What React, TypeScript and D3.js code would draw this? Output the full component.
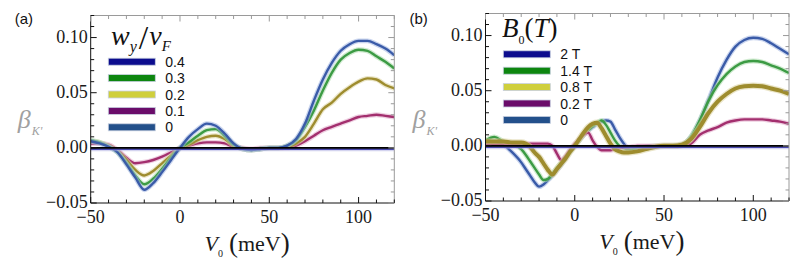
import * as d3 from "d3";

// panel (a): w_y / v_F
const gridA = [-50, -45, -40, -35, -30, -25, -20, -15, -10, -5, 0, 5, 10, 15, 20, 25, 30, 35, 40, 45, 50, 55, 60, 65, 70, 75, 80, 85, 90, 95, 100, 105, 110, 115, 120];
const blueA = [0.006, 0.004, 0.001, -0.004, -0.015, -0.027, -0.038, -0.032, -0.022, -0.011, 0, 0.01, 0.017, 0.022, 0.02, 0.013, 0.004, -0.001, -0.002, -0.001, 0, 0, 0.002, 0.008, 0.022, 0.043, 0.062, 0.077, 0.088, 0.094, 0.097, 0.097, 0.094, 0.09, 0.084];
const greenA = [0.007, 0.005, 0.001, -0.004, -0.014, -0.025, -0.033, -0.028, -0.019, -0.009, 0, 0.005, 0.011, 0.016, 0.017, 0.011, 0.003, -0.001, -0.002, -0.001, 0, 0, 0.002, 0.007, 0.019, 0.034, 0.052, 0.068, 0.08, 0.086, 0.089, 0.088, 0.083, 0.078, 0.072];
const oliveA = [0.006, 0.005, 0.002, -0.003, -0.011, -0.02, -0.025, -0.021, -0.014, -0.007, 0, 0.003, 0.007, 0.01, 0.011, 0.008, 0.002, -0.001, -0.002, -0.001, 0, 0, 0.001, 0.004, 0.01, 0.022, 0.035, 0.041, 0.049, 0.055, 0.06, 0.063, 0.062, 0.057, 0.054];
const magentaA = [0.004, 0.004, 0.003, -0.002, -0.009, -0.014, -0.013, -0.011, -0.008, -0.004, 0, 0.002, 0.004, 0.005, 0.005, 0.004, 0.001, 0, -0.001, 0, 0, 0, 0, 0.002, 0.006, 0.011, 0.016, 0.019, 0.022, 0.025, 0.028, 0.029, 0.03, 0.029, 0.028];

// panel (b): B_0 (T)
const gridB = [-50, -45, -40, -35, -30, -27.5, -25, -22.5, -20, -17.5, -15, -12.5, -10, -7.5, -5, -2.5, 0, 2.5, 5, 7.5, 10, 12.5, 15, 17.5, 20, 22.5, 25, 27.5, 30, 35, 40, 45, 50, 55, 60, 65, 70, 75, 80, 85, 90, 95, 100, 105, 110, 115, 120];
const blueB = [0.005, 0.004, 0.001, -0.006, -0.015, -0.021, -0.027, -0.033, -0.037, -0.035, -0.031, -0.027, -0.022, -0.017, -0.011, -0.005, 0, 0.005, 0.01, 0.014, 0.017, 0.02, 0.022, 0.023, 0.022, 0.015, 0.008, 0.002, -0.002, -0.002, -0.001, -0.0005, 0, 0, 0.001, 0.008, 0.023, 0.042, 0.062, 0.078, 0.09, 0.096, 0.098, 0.097, 0.093, 0.088, 0.083];
const greenB = [0.005, 0.008, 0.004, 0.002, -0.003, -0.008, -0.014, -0.02, -0.026, -0.031, -0.03, -0.025, -0.02, -0.015, -0.01, -0.005, 0, 0.005, 0.01, 0.014, 0.018, 0.021, 0.023, 0.019, 0.012, 0.005, 0, -0.002, -0.003, -0.002, -0.001, 0, 0, 0, 0.001, 0.008, 0.023, 0.041, 0.055, 0.065, 0.072, 0.076, 0.077, 0.076, 0.073, 0.07, 0.066];
const oliveB = [0.004, 0.004, 0.004, 0.003, 0.003, 0.002, -0.001, -0.006, -0.01, -0.016, -0.022, -0.026, -0.021, -0.016, -0.011, -0.005, 0, 0.006, 0.012, 0.017, 0.02, 0.021, 0.016, 0.009, 0.002, -0.003, -0.005, -0.006, -0.006, -0.005, -0.003, -0.001, 0, 0, 0.001, 0.006, 0.017, 0.03, 0.04, 0.047, 0.052, 0.054, 0.0545, 0.054, 0.052, 0.05, 0.047];
const magentaB = [0.001, 0.001, 0.001, 0.001, 0.002, 0.002, 0.002, 0.002, 0.002, 0.002, 0.002, 0, -0.007, -0.013, -0.009, -0.003, 0.002, 0.006, 0.01, 0.012, 0.005, -0.001, -0.004, -0.004, -0.004, -0.003, -0.002, -0.001, -0.001, 0, 0, 0, 0, 0, 0, 0.002, 0.01, 0.014, 0.017, 0.021, 0.023, 0.024, 0.024, 0.024, 0.023, 0.022, 0.02];

// flat curve (largest w_y / largest B_0)
const flatX = [-50, 120];
const flatA = [-0.0012, -0.0012];
const flatB = [-0.0012, -0.0012];

const xTicks = [-50, 0, 50, 100];
const yTicks = [-0.05, 0, 0.05, 0.1];
const legendLabelsA = ["0.4", "0.3", "0.2", "0.1", "0"];
const legendLabelsB = ["2 T", "1.4 T", "0.8 T", "0.2 T", "0"];
const legendColors = ["#0c0c8e", "#0d860f", "#cfcf3c", "#6a0c6a", "#23508b"];

const SERIF = "'Liberation Serif', 'DejaVu Serif', serif";
const SANS = "'Liberation Sans', Arial, sans-serif";

const curveStyle: Record<string, { c: string; h: string }> = {
  blue: { c: "#3a5ba8", h: "#9fb2e0" },
  green: { c: "#3c9b44", h: "#a8d8a8" },
  olive: { c: "#9e8c2e", h: "#d8d09a" },
  magenta: { c: "#a32f6e", h: "#e0a8c8" },
  flat: { c: "#4a4ab0", h: "#aaaae0" },
};

function Panel({ box, grid, series, flat, tag, legendLabels, legendPos, title, widths }) {
  const x = d3.scaleLinear().domain([-50, 120]).range([box.left, box.right]);
  const y = d3.scaleLinear().domain([-0.05, 0.12]).range([box.bottom, box.top]);
  const line = d3.line<number>().x((_, i) => x(grid[i])).y((d) => y(d)).curve(d3.curveMonotoneX);
  const flatLine = d3.line<number>().x((_, i) => x(flatX[i])).y((d) => y(d));
  const fmtY = d3.format(".2f");
  const minorX = d3.range(-50, 121, 10);
  const minorY = d3.range(-5, 13).map((i) => i / 100);
  const cx = (box.left + box.right) / 2;

  return (
    <g>
      <defs>
        <clipPath id={"clip" + tag}>
          <rect x={box.left} y={box.top} width={box.right - box.left} height={box.bottom - box.top} />
        </clipPath>
      </defs>
      <text x={box.left - 76} y={24} fontFamily={SANS} fontSize={15} fill="#111">({tag})</text>

      <g clipPath={`url(#clip${tag})`}>
        {series.map((s) => (
          <g key={s.key}>
            <path d={line(s.values)} fill="none" stroke={curveStyle[s.key].h} strokeWidth={widths[s.key] + 2.5} opacity={0.55} strokeLinejoin="round" />
            <path d={line(s.values)} fill="none" stroke={curveStyle[s.key].c} strokeWidth={widths[s.key]} strokeLinejoin="round" />
          </g>
        ))}
        <path d={flatLine(flat)} fill="none" stroke={curveStyle.flat.h} strokeWidth={4} opacity={0.5} />
        <path d={flatLine(flat)} fill="none" stroke={curveStyle.flat.c} strokeWidth={1.8} />
        <line x1={box.left} x2={box.right} y1={y(0)} y2={y(0)} stroke="#000" strokeWidth={1.6} />
      </g>

      {/* frame */}
      <line x1={box.left} x2={box.right} y1={box.top} y2={box.top} stroke="#9a9a9a" />
      <line x1={box.right} x2={box.right} y1={box.top} y2={box.bottom} stroke="#9a9a9a" />
      <line x1={box.left} x2={box.left} y1={box.top} y2={box.bottom} stroke="#111" />
      <line x1={box.left} x2={box.right} y1={box.bottom} y2={box.bottom} stroke="#111" />

      {minorX.map((v) => {
        const len = v % 50 === 0 ? 6 : 3.5;
        return (
          <g key={"tx" + v}>
            <line x1={x(v)} x2={x(v)} y1={box.bottom} y2={box.bottom - len} stroke="#111" />
            <line x1={x(v)} x2={x(v)} y1={box.top} y2={box.top + len} stroke="#9a9a9a" />
          </g>
        );
      })}
      {minorY.map((v, i) => {
        const len = (i % 5 === 0) ? 6 : 3.5;
        return (
          <g key={"ty" + i}>
            <line x1={box.left} x2={box.left + len} y1={y(v)} y2={y(v)} stroke="#111" />
            <line x1={box.right} x2={box.right - len} y1={y(v)} y2={y(v)} stroke="#9a9a9a" />
          </g>
        );
      })}

      {xTicks.map((v) => (
        <text key={"lx" + v} x={x(v)} y={box.bottom + 20} textAnchor="middle" fontFamily={SERIF} fontSize={18} fill="#1a1a1a">
          {d3.format("d")(v)}
        </text>
      ))}
      {yTicks.map((v) => (
        <text key={"ly" + v} x={box.left - 3} y={y(v) + 5} textAnchor="end" fontFamily={SERIF} fontSize={18} fill="#1a1a1a">
          {fmtY(v)}
        </text>
      ))}

      {/* axis labels */}
      <text x={box.left - 73} y={128} fontFamily={SERIF} fontStyle="italic" fontSize={26} fill="#a0a0a0">β</text>
      <text x={box.left - 59} y={135} fontFamily={SERIF} fontStyle="italic" fontSize={12} fill="#a0a0a0">K'</text>
      <text x={cx - 38} y={box.bottom + 48} fontFamily={SERIF} fill="#1a1a1a">
        <tspan fontStyle="italic" fontSize={22}>V</tspan>
        <tspan fontSize={10} dy={6}>0</tspan>
        <tspan fontSize={27} dx={6} dy={-5}>(</tspan>
        <tspan fontSize={22} dy={-1}>meV</tspan>
        <tspan fontSize={27} dy={1}>)</tspan>
      </text>

      {/* legend */}
      {title}
      {legendLabels.map((lab, i) => (
        <g key={lab}>
          <rect x={legendPos.x} y={legendPos.y + i * 16.4 - 3.5} width={47} height={7} fill={legendColors[i]} stroke="#c8d0e0" strokeWidth={0.8} />
          <text x={legendPos.x + 57} y={legendPos.y + i * 16.4 + 5} fontFamily={SANS} fontSize={14} fill="#111">{lab}</text>
        </g>
      ))}
    </g>
  );
}

export default function App() {
  const seriesA = [
    { key: "magenta", values: magentaA },
    { key: "olive", values: oliveA },
    { key: "green", values: greenA },
    { key: "blue", values: blueA },
  ];
  const seriesB = [
    { key: "blue", values: blueB },
    { key: "green", values: greenB },
    { key: "magenta", values: magentaB },
    { key: "olive", values: oliveB },
  ];
  const titleA = (
    <text x={111} y={45} fontFamily={SERIF} fill="#111">
      <tspan fontStyle="italic" fontSize={28}>w</tspan>
      <tspan fontStyle="italic" fontSize={16} dy={7}>y</tspan>
      <tspan fontSize={34} dx={2} dy={-3}>/</tspan>
      <tspan fontStyle="italic" fontSize={28} dx={1} dy={-4}>v</tspan>
      <tspan fontStyle="italic" fontSize={15} dy={6}>F</tspan>
    </text>
  );
  const titleB = (
    <text x={502} y={37} fontFamily={SERIF} fill="#111">
      <tspan fontStyle="italic" fontSize={27}>B</tspan>
      <tspan fontSize={12} dy={7}>0</tspan>
      <tspan fontSize={27} dy={-7}>(</tspan>
      <tspan fontStyle="italic" fontSize={27}>T</tspan>
      <tspan fontSize={27}>)</tspan>
    </text>
  );
  return (
    <svg width={800} height={263} style={{ position: "absolute", left: 0, top: 0, background: "#fff" }}>
      <Panel
        box={{ left: 90.7, right: 394.3, top: 15.5, bottom: 203 }}
        grid={gridA}
        series={seriesA}
        flat={flatA}
        tag="a"
        legendLabels={legendLabelsA}
        legendPos={{ x: 108.3, y: 61.7 }}
        title={titleA}
        widths={{ blue: 2.4, green: 2.4, olive: 2.4, magenta: 2.4 }}
      />
      <Panel
        box={{ left: 485.5, right: 789, top: 13.5, bottom: 201 }}
        grid={gridB}
        series={seriesB}
        flat={flatB}
        tag="b"
        legendLabels={legendLabelsB}
        legendPos={{ x: 503.3, y: 54.3 }}
        title={titleB}
        widths={{ blue: 2.4, green: 2.4, olive: 4, magenta: 2.4 }}
      />
    </svg>
  );
}
